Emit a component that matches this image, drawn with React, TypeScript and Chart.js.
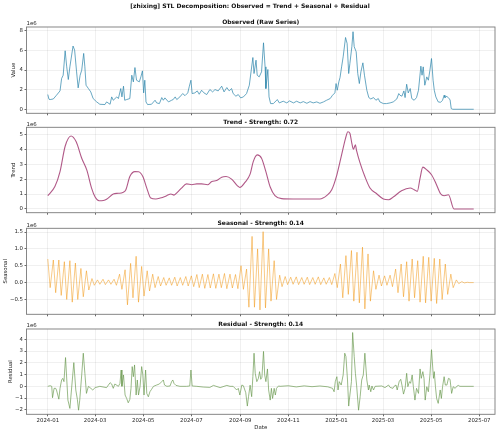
import { useEffect, useRef } from 'react';
import { Chart, registerables } from 'chart.js';

Chart.register(...registerables);

// ---- data (x = days since 2024-01-01, values in units of 1e6) ----

const monthTickDays = [0, 60, 121, 182, 244, 305, 366, 425, 486, 547];
const monthTickLabels = [
  '2024-01', '2024-03', '2024-05', '2024-07', '2024-09',
  '2024-11', '2025-01', '2025-03', '2025-05', '2025-07',
];

const observedDays = [
  0, 1.5, 3, 7, 11, 15.5, 17.5, 19.5, 22, 24,
  26, 28, 32, 34, 36.5, 38.5, 41, 43, 45.5, 47,
  48.5, 51.5, 54.5, 57.5, 62, 66, 72.5, 74.5, 79, 81,
  83, 87.5, 89.5, 92.5, 94, 96, 97.5, 100, 104, 106.5,
  108.5, 110.5, 112.5, 116, 118, 120, 121.5, 123, 124.5, 126.5,
  131.5, 136, 138, 141.5, 144.5, 146.5, 148.5, 153, 157, 159,
  161.5, 163.5, 167.5, 171, 174, 177.5, 179.5, 181.5, 183, 186.5,
  189.5, 192, 195, 198, 201.5, 205.5, 209, 212, 216, 220.5,
  223.5, 227, 230, 233, 235, 238.5, 241.5, 244.5, 248, 252,
  255.5, 260, 261.5, 264, 265.5, 268, 271, 273.5, 275.5, 276.5,
  279, 280.5, 282.5, 286, 291, 293.5, 298.5, 303, 306.5, 311.5,
  315.5, 320, 324, 328.5, 332.5, 336.5, 341, 345, 349.5, 353.5,
  358, 361, 364, 365.5, 367, 369, 370.5, 372.5, 374.5, 377.5,
  379.5, 381.5, 383, 385.5, 387, 388.5, 391, 393, 395, 397,
  399.5, 401.5, 404.5, 407, 409.5, 413, 416, 419, 421, 425.5,
  429.5, 434, 438, 442.5, 445, 446.5, 449, 451.5, 453, 455,
  457, 459.5, 461.5, 464.5, 467.5, 470, 473, 474.5, 476, 478,
  480.5, 482.5, 484.5, 486.5, 488.5, 490, 492, 495, 498, 500.5,
  502.5, 503.5, 506, 508.5, 510, 511.5, 513.5, 540,
];
const observedValues = [
  1.5, 1.02, 0.99, 1.05, 1.43, 1.87, 3.13, 3.47, 5.96, 4.32,
  3.03, 4.32, 6.44, 6.03, 3.81, 2.18, 3.47, 3.98, 5.69, 4.32,
  2.45, 2.11, 1.77, 1.09, 0.75, 0.51, 0.48, 0.75, 0.51, 1.26,
  0.92, 1.26, 1.09, 2.11, 1.26, 2.35, 0.92, 0.99, 1.09, 3.47,
  2.79, 4.25, 2.96, 2.79, 3.3, 3.91, 1.67, 2.96, 0.75, 0.48,
  0.51, 0.92, 0.65, 0.58, 1.19, 0.92, 1.16, 0.75, 0.92, 0.99,
  1.26, 0.99, 1.26, 1.6, 1.39, 1.67, 2.35, 2.96, 1.6, 1.67,
  1.87, 1.53, 1.94, 1.67, 1.5, 2.01, 1.77, 2.01, 1.87, 2.35,
  1.77, 2.21, 1.87, 2.11, 1.6, 1.33, 1.5, 1.16, 1.26, 1.6,
  2.45, 5.27, 3.64, 5.0, 3.47, 3.3, 3.81, 6.77, 4.32, 2.11,
  4.05, 1.26, 0.58, 0.58, 0.99, 0.65, 0.82, 0.65, 0.85, 0.65,
  0.82, 0.65, 0.78, 0.61, 0.78, 0.65, 0.75, 0.61, 0.75, 0.92,
  1.09, 1.43, 1.67, 2.62, 1.94, 2.79, 3.23, 4.32, 5.34, 7.31,
  6.7, 3.64, 4.66, 6.37, 7.9, 6.37, 5.86, 3.64, 2.62, 3.81,
  4.73, 3.47, 1.94, 1.19, 1.05, 1.19, 0.92, 1.09, 0.75, 0.58,
  0.58, 0.65, 0.75, 1.05, 1.6, 1.43, 1.33, 1.87, 1.19, 2.55,
  1.67, 2.11, 1.09, 0.92, 1.19, 1.94, 4.39, 3.47, 4.32, 2.45,
  3.3, 2.96, 3.98, 5.17, 2.96, 1.94, 1.26, 0.75, 0.71, 0.92,
  1.43, 1.19, 1.33, 1.09, 0.99, 0.07, 0, 0,
];

const trendDays = [
  0, 9, 15.5, 22, 29.5, 36, 43, 49.5, 55.5, 60,
  65, 70.5, 74.5, 83, 89.5, 95, 99, 104, 110.5, 115,
  120.5, 125.5, 130.5, 137, 142.5, 148.5, 153, 156, 160, 164.5,
  169.5, 176, 182.5, 189, 195, 202.5, 208, 214, 220.5, 226,
  233, 240.5, 243.5, 250, 256.5, 260.5, 265.5, 271, 276.5, 282,
  288, 296.5, 311, 328, 345, 353.5, 360, 366.5, 372.5, 377.5,
  380.5, 383, 385.5, 387.5, 390, 391.5, 396, 402, 408.5, 417,
  425.5, 432, 438, 448.5, 459.5, 464.5, 468.5, 472, 475.5, 480.5,
  486.5, 492, 498, 502.5, 508, 515, 540,
];
const trendValues = [
  0.89, 1.5, 2.5, 4.2, 4.89, 4.5, 3.4, 2.6, 1.4, 0.8,
  0.55, 0.57, 0.65, 1.0, 1.05, 1.1, 1.29, 2.17, 2.5, 2.49,
  2.17, 1.4, 0.73, 0.67, 0.73, 0.84, 0.95, 1.0, 0.93, 1.13,
  1.4, 1.68, 1.62, 1.68, 1.68, 1.62, 1.84, 1.9, 2.13, 2.17,
  2.0, 1.55, 1.44, 1.78, 2.33, 3.17, 3.62, 3.4, 2.5, 1.47,
  0.89, 0.69, 0.67, 0.67, 0.67, 0.89, 1.29, 2.29, 3.62, 4.73,
  5.17, 5.07, 4.4, 4.0, 4.3, 3.9, 3.07, 2.17, 1.4, 1.02,
  0.67, 0.62, 0.8, 1.22, 1.4, 1.29, 1.18, 2.07, 2.8, 2.62,
  2.29, 1.73, 1.02, 0.89, 0.95, 0, 0,
];

// weekly seasonal swing: high point at the start of each week, low point three days later
const seasonalPeaks = [
  0.7, 0.67, 0.67, 0.62, 0.65, 0.58, 0.42, 0.35, 0.12, 0.08,
  0.1, 0.08, 0.1, 0.25, 0.38, 0.57, 0.78, 0.48, 0.35, 0.25,
  0.18, 0.15, 0.14, 0.16, 0.15, 0.18, 0.2, 0.24, 0.25, 0.24,
  0.26, 0.25, 0.27, 0.25, 0.24, 0.5, 0.4, 1.37, 1.0, 1.51,
  1.0, 0.65, 0.22, 0.18, 0.16, 0.17, 0.15, 0.16, 0.15, 0.17,
  0.14, 0.15, 0.27, 0.55, 0.8, 0.95, 0.9, 1.05, 0.85, 0.35,
  0.22, 0.2, 0.22, 0.4, 0.55, 0.62, 0.7, 0.65, 0.78, 0.75,
  0.72, 0.7, 0.55, 0.25, 0.08, 0.03, 0.01,
];
const seasonalTroughs = [
  -0.15, -0.3, -0.38, -0.5, -0.58, -0.5, -0.42, -0.22, -0.08, -0.05,
  -0.06, -0.05, -0.08, -0.2, -0.66, -0.45, -0.58, -0.4, -0.25, -0.15,
  -0.1, -0.08, -0.08, -0.1, -0.08, -0.1, -0.12, -0.15, -0.17, -0.16,
  -0.17, -0.15, -0.18, -0.16, -0.18, -0.2, -0.73, -0.73, -0.81, -0.75,
  -0.55, -0.5, -0.12, -0.06, -0.05, -0.06, -0.05, -0.06, -0.05, -0.06,
  -0.05, -0.06, -0.15, -0.45, -0.35, -0.55, -0.6, -0.78, -0.55, -0.2,
  -0.1, -0.08, -0.12, -0.3, -0.42, -0.55, -0.45, -0.58, -0.6, -0.55,
  -0.62, -0.5, -0.35, -0.15, -0.03, -0.01, 0,
];
const seasonalLastDay = 540;

const residualDays = [
  0, 3, 5, 6, 8, 10, 11, 14, 15.5, 17.5,
  19, 20.5, 22.5, 25.5, 28, 30, 33, 35.5, 37.5, 39,
  40.5, 43, 45, 47, 49, 51.5, 53.5, 57, 60, 66,
  74.5, 79, 81, 83, 85, 89.5, 91.5, 93, 94, 96,
  98, 100, 102, 104, 105.5, 107, 108.5, 110, 112, 113.5,
  115, 117, 119, 120.5, 122, 124, 125.5, 127.5, 129.5, 131.5,
  134, 138, 141.5, 144.5, 146.5, 148, 151, 155, 157, 158.5,
  160, 162.5, 167.5, 176, 180, 181.5, 183, 189, 197, 205.5,
  210, 218.5, 227, 231, 235, 239.5, 241.5, 243.5, 246, 248,
  251, 253, 254.5, 256.5, 258.5, 260, 261.5, 263, 265, 267,
  268.5, 270, 271.5, 273.5, 275, 276.5, 278.5, 280, 282, 283.5,
  285, 287, 288.5, 290, 292.5, 294.5, 305, 315, 325, 335,
  345, 355, 361, 363, 364.5, 366.5, 368, 369.5, 372, 374.5,
  376.5, 378, 380, 381.5, 383, 385, 386.5, 388.5, 390, 391.5,
  394, 396, 398, 400, 402, 404.5, 406.5, 407.5, 409.5, 411,
  413, 415, 423.5, 427.5, 432, 434, 437.5, 439, 441.5, 443,
  445.5, 447.5, 449, 451, 453, 455, 456.5, 458.5, 460, 462,
  463.5, 465.5, 467.5, 470, 472, 473.5, 475.5, 477, 478.5, 480.5,
  482.5, 484.5, 486.5, 489, 490, 491.5, 493, 495, 497.5, 499,
  500.5, 502.5, 504, 506, 508, 510, 512, 514, 516.5, 518.5,
  520.5, 522.5, 540,
];
const residualValues = [
  0, 0.05, 0, -0.97, -0.17, -0.17, -0.31, -1.09, -0.17, 0.54,
  0.68, 0.4, 2.45, -1.17, -1.88, -0.31, 2.02, -0.31, -1.11, -2.03,
  -1.17, 0.97, 2.82, 1.11, -0.6, 0, -0.11, -0.31, -0.11, 0,
  -0.11, 0.31, 0.2, -0.17, 0.2, 0, 0.25, 1.39, 0, 0.97,
  -0.74, -1.03, -1.4, -1.11, -0.17, 1.68, 0.82, 1.82, -0.74, 0.54,
  -0.74, 0, 1.68, 0.97, -0.74, 1.39, -0.6, -0.89, -0.46, -0.26,
  0, 0.11, 0.2, 0.4, 0.54, 0.11, 0, 0.03, 0.4, 0.54,
  0.25, 0.08, 0, 0, 0.03, 1.39, 0.03, 0, -0.06, -0.09,
  0.08, -0.11, 0.08, 0, 0, -0.31, -0.17, -0.74, 0.11, 0.05,
  -0.54, -1.68, -0.88, 0.1, -0.88, 0.83, 2.82, 1.11, 0.4, 0.68,
  1.25, 0.6, 0.77, 2.97, 0.97, 0.4, 1.48, -0.31, -1.17, -0.17,
  -1.03, -0.17, -0.74, -0.17, 0.03, 0, 0.05, -0.05, 0.04, -0.03,
  0.03, -0.04, -0.17, -0.46, 0.4, 0.82, -0.31, 0.4, 0.11, 0.97,
  2.82, 2.54, 0.54, -1.68, -0.74, 0.4, 4.58, 2.54, 1.11, 0.11,
  -2.03, -0.89, 0.54, 0.97, 2.82, 0.54, -0.31, 0.11, -0.46, 0.03,
  -0.31, 0, 0.03, -0.11, 0.11, -0.09, -0.17, 0, 0.11, -0.31,
  0.4, 0.6, 0.11, -0.66, -0.17, 1.11, -0.03, 0.4, 0.26, 0.97,
  -0.03, -1.17, -0.17, -0.6, 1.48, 0.68, 1.25, 0.68, -1.17, -0.03,
  -0.46, 0.97, 3.12, 0.68, 1.25, -0.03, -1.03, -1.45, -0.31, -1.03,
  -0.03, 0.82, 0.11, 0.11, 0.68, 0.6, -0.6, -0.03, -0.17, 0,
  0.08, 0, 0,
];

// ---- layout ----

const FIG_W = 500;
const FIG_H = 433;
const PLOT_LEFT = 26.5;
const PLOT_RIGHT = 495;
const X_MIN = -27;
const X_MAX = 567;
const X_AXIS_H = 12;
const FONT = '"DejaVu Sans", sans-serif';
const TICK_SIZE = 5.4;
const TITLE_SIZE = 6;
const GRID_COLOR = 'rgba(0,0,0,0.06)';
const FRAME_COLOR = '#7a7a7a';
const TEXT_COLOR = '#262626';

const MAIN_TITLE = '[zhixing] STL Decomposition: Observed = Trend + Seasonal + Residual';

type Pt = { x: number; y: number };

function zipPoints(days: number[], values: number[]): Pt[] {
  return days.map((d, i) => ({ x: d, y: values[i] }));
}

function seasonalPoints(): Pt[] {
  const pts: Pt[] = [];
  seasonalPeaks.forEach((p, w) => {
    pts.push({ x: w * 7, y: p });
    pts.push({ x: w * 7 + 3, y: seasonalTroughs[w] });
  });
  pts.push({ x: seasonalLastDay, y: 0 });
  return pts;
}

type Panel = {
  title: string;
  ylabel: string;
  ylabelX: number;
  top: number;
  bottom: number;
  yMin: number;
  yMax: number;
  yTicks: number[];
  decimals: number;
  color: string;
  width: number;
  smooth: boolean;
  points: () => Pt[];
};

const panels: Panel[] = [
  {
    title: 'Observed (Raw Series)', ylabel: 'Value', ylabelX: 14,
    top: 27, bottom: 113.3, yMin: -0.41, yMax: 8.38, yTicks: [0, 2, 4, 6, 8], decimals: 0,
    color: 'rgba(46,134,171,0.85)', width: 0.85, smooth: false,
    points: () => zipPoints(observedDays, observedValues),
  },
  {
    title: 'Trend - Strength: 0.72', ylabel: 'Trend', ylabelX: 14,
    top: 127.3, bottom: 212.7, yMin: -0.25, yMax: 5.47, yTicks: [0, 1, 2, 3, 4, 5], decimals: 0,
    color: 'rgba(162,59,114,0.85)', width: 1.1, smooth: true,
    points: () => zipPoints(trendDays, trendValues),
  },
  {
    title: 'Seasonal - Strength: 0.14', ylabel: 'Seasonal', ylabelX: 5.5,
    top: 228.3, bottom: 314.3, yMin: -0.94, yMax: 1.61, yTicks: [-0.5, 0, 0.5, 1.0, 1.5], decimals: 1,
    color: 'rgba(241,143,1,0.6)', width: 0.8, smooth: false,
    points: seasonalPoints,
  },
  {
    title: 'Residual - Strength: 0.14', ylabel: 'Residual', ylabelX: 10.7,
    top: 329, bottom: 414.3, yMin: -2.38, yMax: 4.88, yTicks: [-2, -1, 0, 1, 2, 3, 4], decimals: 0,
    color: 'rgba(106,153,78,0.8)', width: 0.85, smooth: false,
    points: () => zipPoints(residualDays, residualValues),
  },
];

function fmt(v: number, dec: number): string {
  return v.toFixed(dec).replace('-', '\u2212');
}

function buildChart(canvas: HTMLCanvasElement, p: Panel, index: number): Chart {
  const isFirst = index === 0;
  const isLast = index === panels.length - 1;
  const cx = (PLOT_LEFT + PLOT_RIGHT) / 2;

  const decor = {
    id: 'panelDecor' + index,
    afterDraw(chart: Chart) {
      const { ctx, chartArea } = chart;
      ctx.save();
      ctx.strokeStyle = FRAME_COLOR;
      ctx.lineWidth = 0.9;
      ctx.strokeRect(chartArea.left, chartArea.top, chartArea.right - chartArea.left, chartArea.bottom - chartArea.top);

      ctx.fillStyle = '#111';
      ctx.textBaseline = 'middle';
      ctx.textAlign = 'center';
      ctx.font = `bold ${TITLE_SIZE}px ${FONT}`;
      ctx.fillText(p.title, cx, p.top - 4.8);
      if (isFirst) ctx.fillText(MAIN_TITLE, FIG_W / 2, 6.5);

      ctx.fillStyle = TEXT_COLOR;
      ctx.font = `${TICK_SIZE}px ${FONT}`;
      ctx.textAlign = 'left';
      ctx.fillText('1e6', PLOT_LEFT, p.top - 3);

      ctx.textAlign = 'center';
      if (isLast) ctx.fillText('Date', cx, 427.5);

      ctx.translate(p.ylabelX, (p.top + p.bottom) / 2);
      ctx.rotate(-Math.PI / 2);
      ctx.fillText(p.ylabel, 0, 0);
      ctx.restore();
    },
  };

  return new Chart(canvas, {
    type: 'line',
    data: {
      datasets: [
        {
          data: p.points(),
          borderColor: p.color,
          borderWidth: p.width,
          pointRadius: 0,
          fill: false,
          tension: p.smooth ? 0.4 : 0,
          cubicInterpolationMode: p.smooth ? 'monotone' : 'default',
        },
      ],
    },
    options: {
      responsive: false,
      animation: false,
      devicePixelRatio: 1,
      events: [],
      layout: {
        padding: { top: p.top, left: 0, right: FIG_W - PLOT_RIGHT, bottom: FIG_H - p.bottom - X_AXIS_H },
      },
      plugins: {
        legend: { display: false },
        tooltip: { enabled: false },
        title: { display: false },
      },
      scales: {
        x: {
          type: 'linear',
          min: X_MIN,
          max: X_MAX,
          bounds: 'data',
          afterBuildTicks: (s: any) => {
            s.ticks = monthTickDays.map((v) => ({ value: v }));
          },
          afterFit: (s: any) => {
            s.height = X_AXIS_H;
          },
          grid: { color: GRID_COLOR, lineWidth: 1, tickLength: 2, tickColor: '#444', tickWidth: 0.8 },
          border: { display: false },
          ticks: {
            autoSkip: false,
            maxRotation: 0,
            minRotation: 0,
            padding: 1.5,
            color: TEXT_COLOR,
            font: { family: FONT, size: TICK_SIZE },
            callback: (_v: any, i: number) => (isLast ? monthTickLabels[i] : ''),
          },
        },
        y: {
          type: 'linear',
          min: p.yMin,
          max: p.yMax,
          bounds: 'data',
          afterBuildTicks: (s: any) => {
            s.ticks = p.yTicks.map((v) => ({ value: v }));
          },
          afterFit: (s: any) => {
            s.width = PLOT_LEFT;
          },
          grid: { color: GRID_COLOR, lineWidth: 1, tickLength: 2, tickColor: '#444', tickWidth: 0.8 },
          border: { display: false },
          ticks: {
            padding: 1.5,
            color: TEXT_COLOR,
            font: { family: FONT, size: TICK_SIZE },
            callback: (v: any) => fmt(Number(v), p.decimals),
          },
        },
      },
    },
    plugins: [decor],
  } as any);
}

export default function App() {
  const refs = useRef<(HTMLCanvasElement | null)[]>([]);

  useEffect(() => {
    document.body.style.margin = '0';
    const charts = panels.map((p, i) => buildChart(refs.current[i] as HTMLCanvasElement, p, i));
    return () => charts.forEach((c) => c.destroy());
  }, []);

  return (
    <div style={{ position: 'relative', width: FIG_W, height: FIG_H, background: '#fff' }}>
      {panels.map((p, i) => (
        <canvas
          key={p.title}
          ref={(el) => {
            refs.current[i] = el;
          }}
          width={FIG_W}
          height={FIG_H}
          style={{ position: 'absolute', left: 0, top: 0, width: FIG_W, height: FIG_H }}
        />
      ))}
    </div>
  );
}
